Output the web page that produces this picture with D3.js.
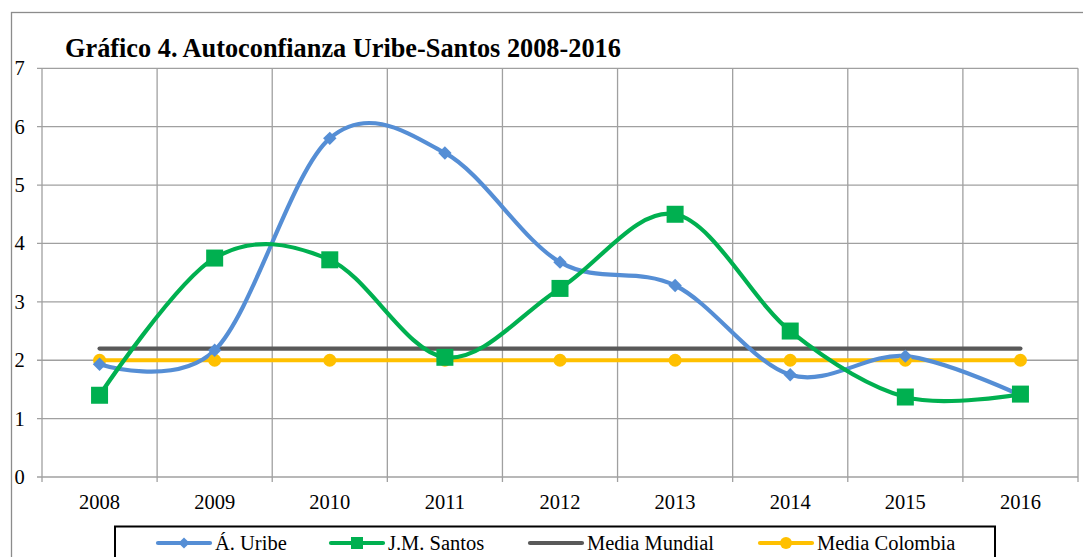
<!DOCTYPE html>
<html><head><meta charset="utf-8">
<script src="https://cdn.jsdelivr.net/npm/d3@7"></script>
<style>body{margin:0;background:#fff}svg{display:block}</style>
</head><body>
<script>
const years = ["2008","2009","2010","2011","2012","2013","2014","2015","2016"];
const uribe = [1.93, 2.17, 5.80, 5.55, 3.68, 3.28, 1.75, 2.07, 1.40];
const santos = [1.40, 3.75, 3.72, 2.05, 3.23, 4.50, 2.50, 1.37, 1.42];
const mediaMundial = [2.2, 2.2, 2.2, 2.2, 2.2, 2.2, 2.2, 2.2, 2.2];
const mediaColombia = [2.0, 2.0, 2.0, 2.0, 2.0, 2.0, 2.0, 2.0, 2.0];
const yTicks = [0,1,2,3,4,5,6,7];
const title = "Gráfico 4. Autoconfianza Uribe-Santos 2008-2016";
const seriesNames = ["Á. Uribe","J.M. Santos","Media Mundial","Media Colombia"];

const W=1083,H=557;
const svg=d3.select("body").append("svg").attr("width",W).attr("height",H);
const font="'Liberation Serif','Times New Roman',serif";
svg.append("rect").attr("x",11.5).attr("y",12.5).attr("width",W).attr("height",H).attr("fill","none").attr("stroke","#8c8c8c").attr("stroke-width",1.3);

const L=42,R=1078,T=68.3,B=477;
const x=d3.scaleBand().domain(years).range([L,R]);
const y=d3.scaleLinear().domain([0,7]).range([B,T]);
const cx=d=>x(d)+x.bandwidth()/2;

const g=svg.append("g");
g.selectAll(".hg").data(yTicks).enter().append("line")
 .attr("x1",L-5).attr("x2",R).attr("y1",d=>y(d)).attr("y2",d=>y(d)).attr("stroke","#a0a0a0").attr("stroke-width",1.3);
const bounds=years.map(d=>x(d)).concat([R]);
g.selectAll(".vg").data(bounds).enter().append("line")
 .attr("x1",d=>d).attr("x2",d=>d).attr("y1",T).attr("y2",B+5).attr("stroke","#a0a0a0").attr("stroke-width",1.3);

svg.selectAll(".yl").data(yTicks).enter().append("text")
 .attr("x",19.5).attr("y",d=>y(d)+7).attr("text-anchor","middle").attr("font-family",font).attr("font-size",20.5).text(d=>d);
svg.selectAll(".xl").data(years).enter().append("text")
 .attr("x",d=>cx(d)).attr("y",509).attr("text-anchor","middle").attr("font-family",font).attr("font-size",20.5).text(d=>d);

svg.append("text").attr("x",65).attr("y",57).attr("font-family",font).attr("font-weight","bold").attr("font-size",26.3).text(title);

const curve=d3.curveCardinal.tension(0);
function line(vals,color,smooth){
  const ln=d3.line().x((d,i)=>cx(years[i])).y(d=>y(d)).curve(smooth?curve:d3.curveLinear);
  svg.append("path").attr("d",ln(vals)).attr("fill","none").attr("stroke",color).attr("stroke-width",4.2).attr("stroke-linecap","round");
}
const cBlue="#558ed5",cGreen="#00b050",cGray="#595959",cYel="#ffc000";
line(mediaMundial,cGray,false);
line(mediaColombia,cYel,false);
line(uribe,cBlue,true);
line(santos,cGreen,true);

svg.selectAll(".mc").data(mediaColombia).enter().append("circle")
 .attr("cx",(d,i)=>cx(years[i])).attr("cy",d=>y(d)).attr("r",6.5).attr("fill",cYel);
svg.selectAll(".mu").data(uribe).enter().append("path")
 .attr("d",d3.symbol().type(d3.symbolDiamond2).size(115))
 .attr("transform",(d,i)=>`translate(${cx(years[i])},${y(d)})`).attr("fill",cBlue);
svg.selectAll(".ms").data(santos).enter().append("rect")
 .attr("x",(d,i)=>cx(years[i])-8.5).attr("y",d=>y(d)-8.5).attr("width",17).attr("height",17).attr("fill",cGreen);

svg.append("rect").attr("x",115).attr("y",526.5).attr("width",880).attr("height",60).attr("fill","#fff").attr("stroke","#000").attr("stroke-width",2);
const items=[{n:seriesNames[0],c:cBlue,x1:158,m:"d"},{n:seriesNames[1],c:cGreen,x1:331,m:"s"},{n:seriesNames[2],c:cGray,x1:530,m:null},{n:seriesNames[3],c:cYel,x1:760,m:"c"}];
const ly=543;
items.forEach(it=>{
  svg.append("line").attr("x1",it.x1).attr("x2",it.x1+52).attr("y1",ly).attr("y2",ly).attr("stroke",it.c).attr("stroke-width",4.2).attr("stroke-linecap","round");
  const mx=it.x1+26;
  if(it.m==="d") svg.append("path").attr("d",d3.symbol().type(d3.symbolDiamond2).size(80)).attr("transform",`translate(${mx},${ly})`).attr("fill",it.c);
  if(it.m==="s") svg.append("rect").attr("x",mx-6).attr("y",ly-6).attr("width",12).attr("height",12).attr("fill",it.c);
  if(it.m==="c") svg.append("circle").attr("cx",mx).attr("cy",ly).attr("r",6).attr("fill",it.c);
  svg.append("text").attr("x",it.x1+57).attr("y",550).attr("font-family",font).attr("font-size",20.5).text(it.n);
});
</script>
</body></html>
